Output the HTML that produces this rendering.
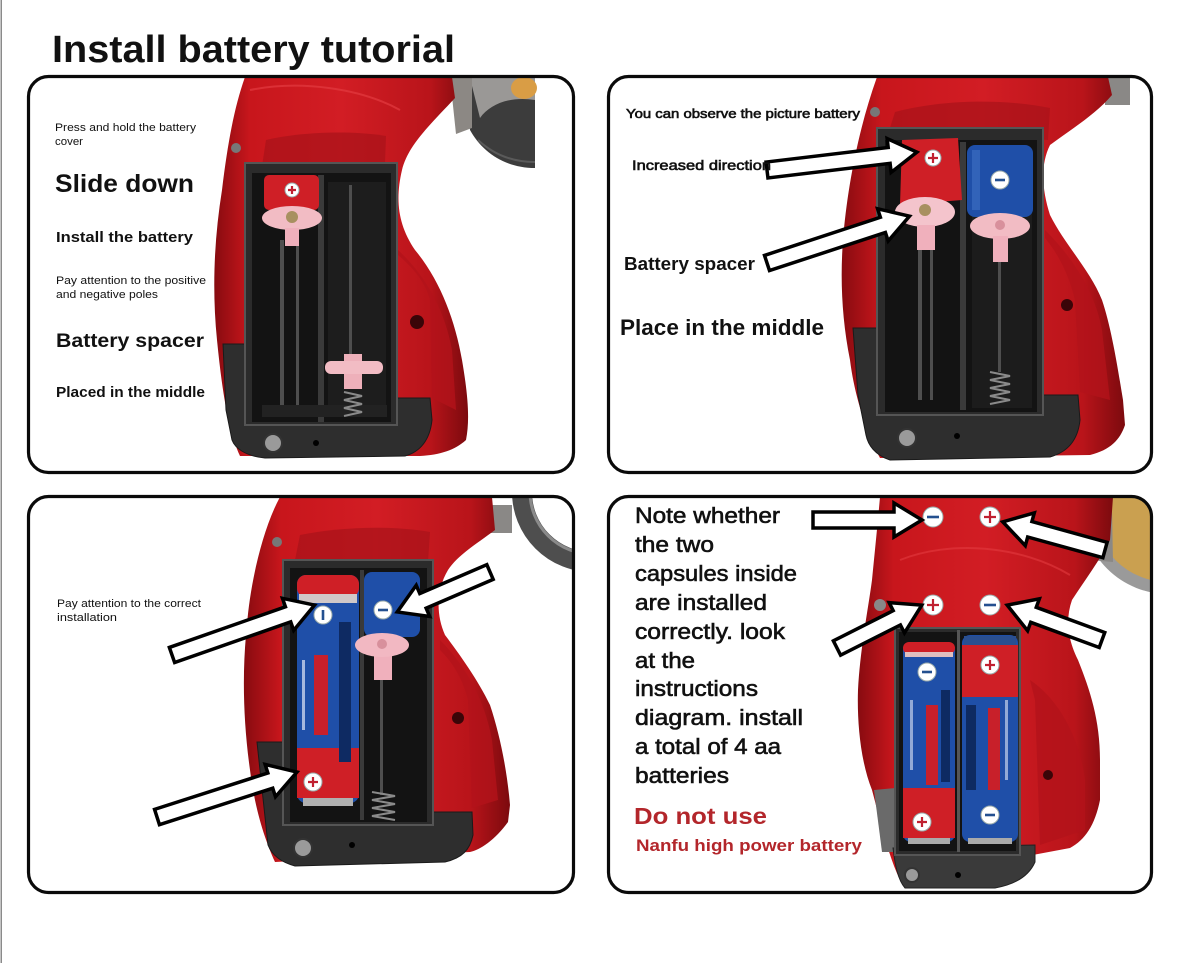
<!DOCTYPE html>
<html>
<head>
<meta charset="utf-8">
<style>
html,body{margin:0;padding:0;background:#fff;}
body{width:1179px;height:963px;overflow:hidden;}
svg{display:block;}
text{font-family:"Liberation Sans",sans-serif;fill:#111;}
.b{font-weight:bold;}
.m{stroke:#111;stroke-width:0.6;}
.arr{fill:#fff;stroke:#000;stroke-width:3.5;stroke-linejoin:miter;}
.pan{fill:none;stroke:#0a0a0a;stroke-width:3.2;}
.red{fill:url(#rg);}
.red2{fill:#a8121a;}
.base{fill:#2e2e2e;stroke:#1a1a1a;stroke-width:1;}
.comp{fill:#2b2b2b;stroke:#555;stroke-width:2;}
.inner{fill:#131313;}
.blue{fill:#1f4fa8;}
.bred{fill:#cf1f26;}
.pink{fill:#f2bcc4;}
.rod{fill:#4e4e4e;}
.ic circle{fill:#fff;stroke:#9aa;stroke-width:1;}
.plus{stroke:#c02030;stroke-width:2.2;fill:none;}
.minus{stroke:#24508f;stroke-width:2.6;fill:none;}
.spring{fill:none;stroke:#8a8a8a;stroke-width:2;}
</style>
</head>
<body>
<svg width="1179" height="963" viewBox="0 0 1179 963" xmlns="http://www.w3.org/2000/svg">
<defs>
  <linearGradient id="rg" x1="0" x2="1" y1="0" y2="0">
    <stop offset="0" stop-color="#870b10"/>
    <stop offset="0.14" stop-color="#c8161c"/>
    <stop offset="0.5" stop-color="#d21d24"/>
    <stop offset="0.85" stop-color="#b9141a"/>
    <stop offset="1" stop-color="#7c0a0e"/>
  </linearGradient>
  <clipPath id="c1"><rect x="30" y="78" width="542" height="393" rx="19"/></clipPath>
  <clipPath id="c2"><rect x="610" y="78" width="541" height="393" rx="19"/></clipPath>
  <clipPath id="c3"><rect x="30" y="498" width="542" height="393" rx="19"/></clipPath>
  <clipPath id="c4"><rect x="610" y="498" width="541" height="393" rx="19"/></clipPath>
</defs>

<rect x="0" y="0" width="1179" height="963" fill="#fff"/>
<rect x="0.5" y="0" width="1.5" height="963" fill="#8a8a8a"/>

<!-- Title -->
<text x="52" y="62" font-size="38" class="b" textLength="403" lengthAdjust="spacingAndGlyphs">Install battery tutorial</text>

<!-- ================= PANEL 1 ================= -->
<g clip-path="url(#c1)">
  <!-- metal wheel -->
  <path d="M465,77 L535,77 L535,168 C505,168 482,152 470,130 Z" fill="#3c3c3c"/>
  <path d="M470,78 L535,78 L535,100 C510,96 490,104 480,118 Z" fill="#9a9896"/>
  <ellipse cx="524" cy="88" rx="13" ry="11" fill="#d99d45"/>
  <path d="M478,140 C495,156 515,162 535,162" fill="none" stroke="#5a5a5a" stroke-width="2"/>
  <path d="M450,77 L472,77 L472,128 L456,134 Z" fill="#8c8884"/>
  <!-- red body -->
  <path class="red" d="M245,77 L452,77 L455,98 C430,125 408,145 402,170 C395,200 398,225 415,250 C440,280 455,320 462,360 C468,395 470,420 466,440 C455,450 440,455 420,456 L240,456 C228,430 222,390 217,340 C212,290 214,240 222,190 C228,140 235,105 245,77 Z"/>
  <path class="red2" d="M266,140 C300,132 350,130 386,136 L385,163 L262,166 Z" opacity="0.7"/>
  <path d="M398,250 C425,275 445,310 452,350 L456,410 L432,398 L430,300 C425,280 410,265 398,255 Z" fill="#b3131a" opacity="0.8"/>
  <path d="M250,90 C300,80 360,88 400,110" fill="none" stroke="#e23a40" stroke-width="2" opacity="0.7"/>
  <circle cx="236" cy="148" r="5" fill="#777"/>
  <circle cx="417" cy="322" r="7" fill="#3a0508"/>
  <!-- base -->
  <path class="base" d="M223,344 L247,344 L247,405 L395,405 L395,398 L430,398 L432,420 C430,440 420,452 405,456 L265,458 C245,456 235,448 232,440 L226,410 Z"/>
  <!-- compartment -->
  <rect class="comp" x="245" y="163" width="152" height="262"/>
  <rect class="inner" x="252" y="173" width="139" height="249"/>
  <rect x="318" y="175" width="6" height="247" fill="#3a3a3a"/>
  <rect x="328" y="182" width="58" height="235" fill="#1d1d1d"/>
  <rect class="rod" x="280" y="240" width="4" height="165"/>
  <rect class="rod" x="296" y="240" width="3" height="165"/>
  <rect class="rod" x="349" y="185" width="3" height="170"/>
  <rect x="262" y="405" width="125" height="12" fill="#222"/>
  <rect class="bred" x="264" y="175" width="55" height="35" rx="5"/>
  <g class="ic" transform="translate(292,190)"><circle r="7"/><path class="plus" d="M-4,0H4M0,-4V4"/></g>
  <ellipse class="pink" cx="292" cy="218" rx="30" ry="12"/>
  <circle cx="292" cy="217" r="6" fill="#a89060"/>
  <rect x="285" y="228" width="14" height="18" fill="#f0b0bc"/>
  <rect x="344" y="354" width="18" height="35" fill="#eeb0ba"/>
  <rect class="pink" x="325" y="361" width="58" height="13" rx="6"/>
  <path class="spring" d="M344,392 L362,396 L344,400 L362,404 L344,408 L362,412 L344,416"/>
  <circle cx="273" cy="443" r="9" fill="#9a9a9a" stroke="#333" stroke-width="2"/>
  <circle cx="316" cy="443" r="3" fill="#000"/>
</g>
<rect class="pan" x="28.5" y="76.5" width="545" height="396" rx="20"/>
<text x="55" y="131" font-size="11" textLength="141" lengthAdjust="spacingAndGlyphs">Press and hold the battery</text>
<text x="55" y="145" font-size="11" textLength="28" lengthAdjust="spacingAndGlyphs">cover</text>
<text x="55" y="192" font-size="25" class="b" textLength="139" lengthAdjust="spacingAndGlyphs">Slide down</text>
<text x="56" y="242" font-size="15" class="b" textLength="137" lengthAdjust="spacingAndGlyphs">Install the battery</text>
<text x="56" y="284" font-size="11" textLength="150" lengthAdjust="spacingAndGlyphs">Pay attention to the positive</text>
<text x="56" y="298" font-size="11" textLength="102" lengthAdjust="spacingAndGlyphs">and negative poles</text>
<text x="56" y="347" font-size="19" class="b" textLength="148" lengthAdjust="spacingAndGlyphs">Battery spacer</text>
<text x="56" y="397" font-size="15" class="b" textLength="149" lengthAdjust="spacingAndGlyphs">Placed in the middle</text>

<!-- ================= PANEL 2 ================= -->
<g clip-path="url(#c2)">
  <rect x="1105" y="77" width="25" height="28" fill="#8a8886"/>
  <path class="red" d="M877,77 L1108,77 L1112,95 C1095,115 1070,130 1050,145 C1040,165 1042,190 1050,215 C1065,245 1090,270 1102,300 C1112,330 1118,370 1123,400 L1125,425 C1120,440 1110,450 1090,455 L880,458 C868,435 855,400 850,360 C842,320 840,280 843,240 C847,190 858,130 877,77 Z"/>
  <path class="red2" d="M895,112 C940,100 1000,98 1050,108 L1048,140 L890,128 Z" opacity="0.7"/>
  <path d="M1045,230 C1070,255 1095,290 1102,330 L1110,400 L1080,392 L1075,300 C1068,270 1055,250 1045,238 Z" fill="#b3131a" opacity="0.8"/>
  <circle cx="875" cy="112" r="5" fill="#777"/>
  <circle cx="1067" cy="305" r="6" fill="#3a0508"/>
  <path class="base" d="M853,328 L877,328 L877,405 L1043,405 L1043,395 L1078,395 L1080,420 C1078,440 1068,452 1050,457 L890,460 C875,455 868,445 866,435 L858,395 Z"/>
  <rect class="comp" x="877" y="128" width="166" height="287"/>
  <rect class="inner" x="885" y="140" width="152" height="272"/>
  <rect x="960" y="142" width="6" height="268" fill="#3a3a3a"/>
  <rect x="972" y="150" width="60" height="258" fill="#1c1c1c"/>
  <rect class="rod" x="918" y="250" width="4" height="150"/>
  <rect class="rod" x="930" y="250" width="3" height="150"/>
  <rect class="rod" x="998" y="262" width="3" height="110"/>
  <path class="spring" d="M990,372 L1010,376 L990,380 L1010,384 L990,388 L1010,392 L990,396 L1010,400 L990,404"/>
  <path class="bred" d="M902,140 L958,138 L962,200 L900,205 Z"/>
  <g class="ic" transform="translate(933,158)"><circle r="8"/><path class="plus" d="M-5,0H5M0,-5V5"/></g>
  <ellipse cx="925" cy="212" rx="30" ry="15" fill="#f4c4cc"/>
  <circle cx="925" cy="210" r="6" fill="#a89060"/>
  <rect x="917" y="225" width="18" height="25" fill="#f0b0bc"/>
  <rect class="blue" x="967" y="145" width="66" height="72" rx="8"/>
  <rect x="972" y="150" width="8" height="60" fill="#3b6cc0" opacity="0.7"/>
  <g class="ic" transform="translate(1000,180)"><circle r="9"/><path class="minus" d="M-5,0H5"/></g>
  <ellipse class="pink" cx="1000" cy="226" rx="30" ry="13"/>
  <circle cx="1000" cy="225" r="5" fill="#d8909c"/>
  <rect x="993" y="236" width="15" height="26" fill="#f0b0bc"/>
  <circle cx="907" cy="438" r="9" fill="#9a9a9a" stroke="#333" stroke-width="2"/>
  <circle cx="957" cy="436" r="3" fill="#000"/>
</g>
<rect class="pan" x="608.5" y="76.5" width="543" height="396" rx="20"/>
<g transform="translate(767,170) rotate(-6.8)"><polygon class="arr" points="0,-8 123,-8 123,-17 151,0 123,17 123,8 0,8"/></g>
<g transform="translate(767,263) rotate(-18.2)"><polygon class="arr" points="0,-8 122,-8 122,-17 150,0 122,17 122,8 0,8"/></g>
<text x="626" y="118" font-size="13" class="m" stroke-width="0.3" textLength="234" lengthAdjust="spacingAndGlyphs">You can observe the picture battery</text>
<text x="632" y="170" font-size="14" class="m" stroke-width="0.4" textLength="139" lengthAdjust="spacingAndGlyphs">Increased direction</text>
<text x="624" y="270" font-size="18" class="b" textLength="131" lengthAdjust="spacingAndGlyphs">Battery spacer</text>
<text x="620" y="335" font-size="22" class="b" textLength="204" lengthAdjust="spacingAndGlyphs">Place in the middle</text>

<!-- ================= PANEL 3 ================= -->
<g clip-path="url(#c3)">
  <circle cx="592" cy="492" r="70" fill="none" stroke="#4e4e4e" stroke-width="20"/>
  <circle cx="592" cy="492" r="62" fill="none" stroke="#8a8a8a" stroke-width="3"/>
  <rect x="490" y="505" width="22" height="28" fill="#8a8886"/>
  <path class="red" d="M280,497 L492,497 L495,530 C475,545 458,555 448,570 C436,590 436,615 445,635 C460,655 478,680 490,705 C500,735 507,770 510,805 L508,822 C495,840 480,850 470,852 L275,862 C265,840 255,810 250,770 C243,720 242,670 247,625 C250,585 262,530 280,497 Z"/>
  <path class="red2" d="M300,535 C340,527 390,525 430,532 L428,562 L295,560 Z" opacity="0.7"/>
  <path d="M440,640 C465,665 485,700 492,740 L498,800 L472,808 L468,700 C462,675 450,660 440,650 Z" fill="#b3131a" opacity="0.8"/>
  <circle cx="277" cy="542" r="5" fill="#777"/>
  <circle cx="458" cy="718" r="6" fill="#3a0508"/>
  <path class="base" d="M257,742 L283,742 L283,820 L433,820 L433,812 L472,812 L473,835 C470,850 462,858 445,862 L295,866 C280,862 272,855 268,845 Z"/>
  <rect class="comp" x="283" y="560" width="150" height="265"/>
  <rect class="inner" x="290" y="568" width="137" height="254"/>
  <rect x="360" y="570" width="4" height="250" fill="#3a3a3a"/>
  <rect class="rod" x="380" y="680" width="3" height="115"/>
  <path class="spring" d="M372,792 L395,796 L372,800 L395,804 L372,808 L395,812 L372,816 L395,820"/>
  <!-- left battery -->
  <rect class="blue" x="297" y="575" width="62" height="228" rx="9"/>
  <rect class="bred" x="297" y="575" width="62" height="22" rx="9"/>
  <rect x="299" y="594" width="58" height="9" fill="#d0c8c8"/>
  <rect class="bred" x="297" y="748" width="62" height="50"/>
  <rect x="303" y="798" width="50" height="8" fill="#b0b0b0"/>
  <rect x="314" y="655" width="14" height="80" fill="#c8202a"/>
  <rect x="302" y="660" width="3" height="70" fill="#dfe6f5" opacity="0.7"/>
  <rect x="339" y="622" width="12" height="140" fill="#0e2a62"/>
  <g class="ic" transform="translate(323,615)"><circle r="9"/><path class="minus" d="M0,-5V5"/></g>
  <g class="ic" transform="translate(313,782)"><circle r="9"/><path class="plus" d="M-5,0H5M0,-5V5"/></g>
  <!-- right battery -->
  <rect class="blue" x="364" y="572" width="56" height="65" rx="8"/>
  <g class="ic" transform="translate(383,610)"><circle r="9"/><path class="minus" d="M-5,0H5"/></g>
  <rect x="374" y="650" width="18" height="30" fill="#f0b0bc"/>
  <ellipse cx="382" cy="645" rx="27" ry="12" fill="#f2b8c2"/>
  <circle cx="382" cy="644" r="5" fill="#d8909c"/>
  <circle cx="303" cy="848" r="9" fill="#9a9a9a" stroke="#333" stroke-width="2"/>
  <circle cx="352" cy="845" r="3" fill="#000"/>
</g>
<rect class="pan" x="28.5" y="496.5" width="545" height="396" rx="20"/>
<g transform="translate(172,655) rotate(-19.3)"><polygon class="arr" points="0,-8 123,-8 123,-17 151,0 123,17 123,8 0,8"/></g>
<g transform="translate(490,572) rotate(156.7)"><polygon class="arr" points="0,-8 73,-8 73,-17 101,0 73,17 73,8 0,8"/></g>
<g transform="translate(157,817) rotate(-17.8)"><polygon class="arr" points="0,-8 119,-8 119,-17 147,0 119,17 119,8 0,8"/></g>
<text x="57" y="607" font-size="11" textLength="144" lengthAdjust="spacingAndGlyphs">Pay attention to the correct</text>
<text x="57" y="621" font-size="11" textLength="60" lengthAdjust="spacingAndGlyphs">installation</text>

<!-- ================= PANEL 4 ================= -->
<g clip-path="url(#c4)">
  <circle cx="1168" cy="508" r="80" fill="#caa050" stroke="#9a9a9a" stroke-width="12"/>
  <path d="M1080,515 L1112,510 L1113,562 L1090,560 Z" fill="#8a8886"/>
  <path class="red" d="M880,497 L1113,497 L1110,540 C1100,560 1085,580 1072,600 C1065,620 1068,640 1078,660 C1090,690 1100,720 1100,760 L1100,800 C1095,825 1085,840 1070,848 L900,880 C888,855 880,820 872,790 C860,760 857,720 858,690 C860,650 868,610 872,580 C875,550 878,520 880,497 Z"/>
  <path d="M900,560 C950,540 1020,545 1070,575" fill="none" stroke="#e23a40" stroke-width="2" opacity="0.6"/>
  <path d="M1030,680 C1060,700 1080,740 1085,780 L1085,830 L1040,845 L1035,700 Z" fill="#b3131a" opacity="0.8"/>
  <circle cx="880" cy="605" r="6" fill="#888"/>
  <circle cx="1048" cy="775" r="5" fill="#3a0508"/>
  <path d="M874,790 L896,788 L896,852 L882,852 Z" fill="#6a6a6a"/>
  <path d="M893,848 L1035,845 L1035,862 C1028,878 1012,885 995,888 L905,888 C898,880 895,865 893,848 Z" fill="#3a3a3a" stroke="#222" stroke-width="1"/>
  <rect class="comp" x="895" y="628" width="125" height="227" stroke="#777"/>
  <rect class="inner" x="899" y="632" width="117" height="219"/>
  <rect x="957" y="630" width="3" height="222" fill="#555"/>
  <!-- left battery -->
  <rect class="blue" x="903" y="642" width="52" height="200" rx="8"/>
  <rect class="bred" x="903" y="642" width="52" height="12" rx="6"/>
  <rect x="905" y="652" width="48" height="5" fill="#e0c0c0"/>
  <rect class="bred" x="903" y="788" width="52" height="50"/>
  <rect x="908" y="838" width="42" height="6" fill="#aaa"/>
  <rect x="926" y="705" width="12" height="80" fill="#c8202a"/>
  <rect x="941" y="690" width="9" height="92" fill="#0e2a62"/>
  <rect x="910" y="700" width="3" height="70" fill="#dfe6f5" opacity="0.6"/>
  <g class="ic" transform="translate(927,672)"><circle r="9"/><path class="minus" d="M-5,0H5"/></g>
  <g class="ic" transform="translate(922,822)"><circle r="9"/><path class="plus" d="M-5,0H5M0,-5V5"/></g>
  <!-- right battery -->
  <rect class="blue" x="962" y="635" width="56" height="207" rx="8"/>
  <rect class="bred" x="962" y="645" width="56" height="52"/>
  <rect x="964" y="636" width="52" height="9" fill="#2a4f90"/>
  <rect x="988" y="708" width="12" height="82" fill="#c8202a"/>
  <rect x="966" y="705" width="10" height="85" fill="#0e2a62"/>
  <rect x="1005" y="700" width="3" height="80" fill="#dfe6f5" opacity="0.6"/>
  <rect x="968" y="838" width="44" height="6" fill="#aaa"/>
  <g class="ic" transform="translate(990,665)"><circle r="9"/><path class="plus" d="M-5,0H5M0,-5V5"/></g>
  <g class="ic" transform="translate(990,815)"><circle r="9"/><path class="minus" d="M-5,0H5"/></g>
  <circle cx="912" cy="875" r="7" fill="#9a9a9a" stroke="#333" stroke-width="2"/>
  <circle cx="958" cy="875" r="3" fill="#000"/>
  <!-- polarity markers -->
  <g class="ic" transform="translate(933,517)"><circle r="10"/><path class="minus" d="M-6,0H6"/></g>
  <g class="ic" transform="translate(990,517)"><circle r="10"/><path class="plus" d="M-6,0H6M0,-6V6"/></g>
  <g class="ic" transform="translate(933,605)"><circle r="10"/><path class="plus" d="M-6,0H6M0,-6V6"/></g>
  <g class="ic" transform="translate(990,605)"><circle r="10"/><path class="minus" d="M-6,0H6"/></g>
</g>
<rect class="pan" x="608.5" y="496.5" width="543" height="396" rx="20"/>
<g transform="translate(813,520)"><polygon class="arr" points="0,-8 81,-8 81,-17 109,0 81,17 81,8 0,8"/></g>
<g transform="translate(1105,550) rotate(195.4)"><polygon class="arr" points="0,-8 78,-8 78,-17 106,0 78,17 78,8 0,8"/></g>
<g transform="translate(837,648) rotate(-26.8)"><polygon class="arr" points="0,-8 67,-8 67,-17 95,0 67,17 67,8 0,8"/></g>
<g transform="translate(1102,640) rotate(200.2)"><polygon class="arr" points="0,-8 73,-8 73,-17 101,0 73,17 73,8 0,8"/></g>

<text x="635" y="523" font-size="22" class="m" textLength="145" lengthAdjust="spacingAndGlyphs">Note whether</text>
<text x="635" y="552" font-size="22" class="m" textLength="79" lengthAdjust="spacingAndGlyphs">the two</text>
<text x="635" y="581" font-size="22" class="m" textLength="162" lengthAdjust="spacingAndGlyphs">capsules inside</text>
<text x="635" y="610" font-size="22" class="m" textLength="132" lengthAdjust="spacingAndGlyphs">are installed</text>
<text x="635" y="639" font-size="22" class="m" textLength="150" lengthAdjust="spacingAndGlyphs">correctly. look</text>
<text x="635" y="668" font-size="22" class="m" textLength="60" lengthAdjust="spacingAndGlyphs">at the</text>
<text x="635" y="696" font-size="22" class="m" textLength="123" lengthAdjust="spacingAndGlyphs">instructions</text>
<text x="635" y="725" font-size="22" class="m" textLength="168" lengthAdjust="spacingAndGlyphs">diagram. install</text>
<text x="635" y="754" font-size="22" class="m" textLength="146" lengthAdjust="spacingAndGlyphs">a total of 4 aa</text>
<text x="635" y="783" font-size="22" class="m" textLength="94" lengthAdjust="spacingAndGlyphs">batteries</text>
<text x="634" y="824" font-size="23" class="b" style="fill:#b3262b" textLength="133" lengthAdjust="spacingAndGlyphs">Do not use</text>
<text x="636" y="851" font-size="17" class="b" style="fill:#b3262b" textLength="226" lengthAdjust="spacingAndGlyphs">Nanfu high power battery</text>
</svg>
</body>
</html>
